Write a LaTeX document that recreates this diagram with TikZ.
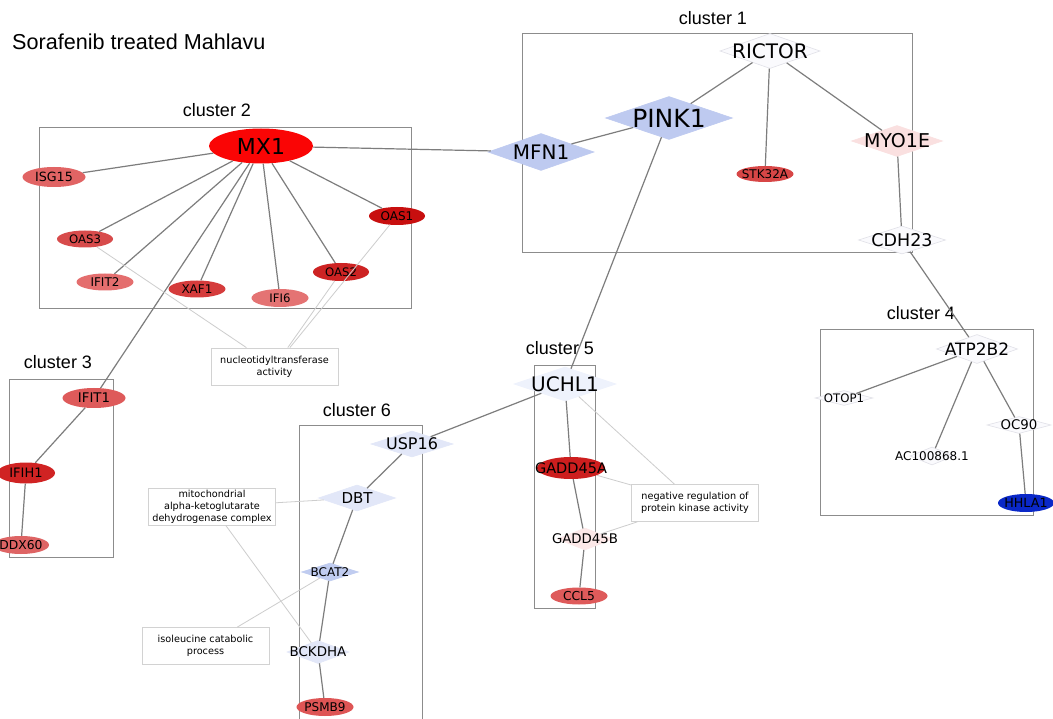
\documentclass[tikz,border=0pt]{standalone}
\usepackage{fontspec}
\setmainfont{DejaVu Sans}
\newfontfamily\titlefont{Liberation Sans}
\usetikzlibrary{shapes.geometric}
\newcommand\myfs[1]{\fontsize{#1}{#1}\selectfont}
\definecolor{boxgray}{RGB}{140,140,140}
\definecolor{edgegray}{RGB}{125,125,125}
\definecolor{lightedge}{RGB}{205,205,205}
\definecolor{aboxgray}{RGB}{210,210,210}
\definecolor{diaedge}{RGB}{225,225,232}
\definecolor{cMX}{RGB}{250,5,5}
\definecolor{cISG}{RGB}{225,100,100}
\definecolor{cOASiii}{RGB}{215,75,75}
\definecolor{cIFITii}{RGB}{228,110,110}
\definecolor{cXAF}{RGB}{213,60,60}
\definecolor{cIFI}{RGB}{228,115,115}
\definecolor{cOASii}{RGB}{205,35,35}
\definecolor{cOASi}{RGB}{200,15,15}
\definecolor{cSTK}{RGB}{215,70,70}
\definecolor{cIFITi}{RGB}{222,90,90}
\definecolor{cIFIH}{RGB}{208,35,35}
\definecolor{cDDX}{RGB}{222,100,100}
\definecolor{cGADDA}{RGB}{205,30,30}
\definecolor{cCCL}{RGB}{222,90,90}
\definecolor{cPSMB}{RGB}{222,85,85}
\definecolor{cHHLA}{RGB}{10,40,200}
\definecolor{cPINK}{RGB}{190,202,240}
\definecolor{cBCAT}{RGB}{192,204,240}
\definecolor{cUSP}{RGB}{226,231,248}
\definecolor{cUCHL}{RGB}{238,242,252}
\definecolor{cWhite}{RGB}{250,250,253}
\definecolor{cMYO}{RGB}{250,224,224}
\definecolor{cGADDB}{RGB}{252,232,232}
\tikzset{
  cbox/.style={draw=boxgray, line width=1pt},
  clabel/.style={font=\titlefont\myfs{18}},
  gene/.style={ellipse, inner sep=0pt, draw=none},
  dia/.style={diamond, inner sep=0pt, draw=diaedge, line width=0.6pt},
  lbl/.style={inner sep=0pt, text=black},
  edge/.style={draw=edgegray, line width=1.2pt},
  aedge/.style={draw=lightedge, line width=0.8pt},
  abox/.style={draw=aboxgray, line width=0.8pt, fill=white, align=center,
    minimum width=127pt, minimum height=37pt, inner sep=1pt,
    font=\fontsize{9.7}{12}\selectfont},
}
\begin{document}
\begin{tikzpicture}[x=1pt,y=-1pt]
\useasboundingbox (0,0) rectangle (1053,719);
\fill[white] (0,0) rectangle (1053,719);

% title
\node[anchor=west, font=\titlefont\myfs{21.6}, inner sep=0pt] (title) at (12,42) {Sorafenib treated Mahlavu};

% cluster boxes
\draw[cbox] (39,128) rectangle (411,309);
\node[clabel] (l2) at (217,110) {cluster 2};
\draw[cbox] (522,34) rectangle (912,253);
\node[clabel] (l1) at (713,18) {cluster 1};
\draw[cbox] (9,380) rectangle (113,557);
\node[clabel] (l3) at (58,362) {cluster 3};
\draw[cbox] (820,330) rectangle (1033,515);
\node[clabel] (l4) at (921,313) {cluster 4};
\draw[cbox] (534,366) rectangle (595,608);
\node[clabel] (l5) at (560,348) {cluster 5};
\draw[cbox] (299,725) -- (299,426) -- (422,426) -- (422,725);
\node[clabel] (l6) at (357,410) {cluster 6};

% cluster 2 nodes
\node[gene, fill=cMX, minimum width=104pt, minimum height=35pt] (mx1) at (261,146) {};
\node[lbl, font=\myfs{22}] at (mx1) {MX1};
\node[gene, fill=cISG, minimum width=63pt, minimum height=20pt] (isg15) at (54,177) {};
\node[lbl, font=\myfs{12.7}] at (isg15) {ISG15};
\node[gene, fill=cOASiii, minimum width=56pt, minimum height=17pt] (oas3) at (85,239) {};
\node[lbl, font=\myfs{11.7}] at (oas3) {OAS3};
\node[gene, fill=cIFITii, minimum width=57pt, minimum height=17pt] (ifit2) at (105,282) {};
\node[lbl, font=\myfs{12}] at (ifit2) {IFIT2};
\node[gene, fill=cXAF, minimum width=57pt, minimum height=17pt] (xaf1) at (197,289) {};
\node[lbl, font=\myfs{12}] at (xaf1) {XAF1};
\node[gene, fill=cIFI, minimum width=57pt, minimum height=18pt] (ifi6) at (280,298) {};
\node[lbl, font=\myfs{11.7}] at (ifi6) {IFI6};
\node[gene, fill=cOASii, minimum width=56pt, minimum height=18pt] (oas2) at (341,272) {};
\node[lbl, font=\myfs{11.7}] at (oas2) {OAS2};
\node[gene, fill=cOASi, minimum width=56pt, minimum height=18pt] (oas1) at (397,216) {};
\node[lbl, font=\myfs{12}] at (oas1) {OAS1};

% cluster 1 nodes
\node[dia, fill=cWhite, minimum width=100pt, minimum height=35pt] (rictor) at (770,51) {};
\node[lbl, font=\myfs{20}] at (rictor) {RICTOR};
\node[dia, fill=cPINK, draw=cPINK, minimum width=127pt, minimum height=43pt] (pink1) at (669,118) {};
\node[lbl, font=\myfs{25}] at (pink1) {PINK1};
\node[dia, fill=cPINK, draw=cPINK, minimum width=106pt, minimum height=37pt] (mfn1) at (541,152) {};
\node[lbl, font=\myfs{20}] at (mfn1) {MFN1};
\node[gene, fill=cSTK, minimum width=57pt, minimum height=16pt] (stk32a) at (765,174) {};
\node[lbl, font=\myfs{12}] at (stk32a) {STK32A};
\node[dia, fill=cMYO, draw=cMYO, minimum width=91pt, minimum height=31pt] (myo1e) at (897,141) {};
\node[lbl, font=\myfs{19}] at (myo1e) {MYO1E};
\node[dia, fill=cWhite, minimum width=87pt, minimum height=28pt] (cdh23) at (902,240) {};
\node[lbl, font=\myfs{17.5}] at (cdh23) {CDH23};

% cluster 4 nodes
\node[dia, fill=cWhite, minimum width=81pt, minimum height=29pt] (atp2b2) at (977,349) {};
\node[lbl, font=\myfs{17}] at (atp2b2) {ATP2B2};
\node[dia, fill=cWhite, minimum width=58pt, minimum height=15pt] (otop1) at (844,398) {};
\node[lbl, font=\myfs{11.7}] at (otop1) {OTOP1};
\node[dia, fill=cWhite, minimum width=44pt, minimum height=18pt] (ac100868) at (932,456) {};
\node[lbl, font=\myfs{12}] at (ac100868) {AC100868.1};
\node[dia, fill=cWhite, minimum width=64pt, minimum height=17pt] (oc90) at (1019,425) {};
\node[lbl, font=\myfs{13.3}] at (oc90) {OC90};
\node[gene, fill=cHHLA, minimum width=56pt, minimum height=18pt] (hhla1) at (1026,503) {};
\node[lbl, font=\myfs{12.7}] at (hhla1) {HHLA1};

% cluster 3 nodes
\node[gene, fill=cIFITi, minimum width=63pt, minimum height=20pt] (ifit1) at (94,398) {};
\node[lbl, font=\myfs{13.3}] at (ifit1) {IFIT1};
\node[gene, fill=cIFIH, minimum width=58pt, minimum height=21pt] (ifih1) at (26,473) {};
\node[lbl, font=\myfs{13}] at (ifih1) {IFIH1};
\node[gene, fill=cDDX, minimum width=56pt, minimum height=18pt] (ddx60) at (21,545) {};
\node[lbl, font=\myfs{12.3}] at (ddx60) {DDX60};

% cluster 5 nodes
\node[dia, fill=cUCHL, draw=cUCHL, minimum width=102pt, minimum height=34pt] (uchl1) at (565,384) {};
\node[lbl, font=\myfs{20}] at (uchl1) {UCHL1};
\node[gene, fill=cGADDA, minimum width=68pt, minimum height=22pt] (gadd45a) at (571,468) {};
\node[lbl, font=\myfs{14.5}] at (gadd45a) {GADD45A};
\node[dia, fill=cGADDB, draw=cGADDB, minimum width=56pt, minimum height=22pt] (gadd45b) at (585,539) {};
\node[lbl, font=\myfs{13.3}] at (gadd45b) {GADD45B};
\node[gene, fill=cCCL, minimum width=57pt, minimum height=17pt] (ccl5) at (579,596) {};
\node[lbl, font=\myfs{12.3}] at (ccl5) {CCL5};

% cluster 6 nodes
\node[dia, fill=cUSP, draw=cUSP, minimum width=82pt, minimum height=26pt] (usp16) at (412,444) {};
\node[lbl, font=\myfs{16}] at (usp16) {USP16};
\node[dia, fill=cUSP, draw=cUSP, minimum width=77pt, minimum height=26pt] (dbt) at (357,498) {};
\node[lbl, font=\myfs{15}] at (dbt) {DBT};
\node[dia, fill=cBCAT, draw=cBCAT, minimum width=57pt, minimum height=18pt] (bcat2) at (330,572) {};
\node[lbl, font=\myfs{12}] at (bcat2) {BCAT2};
\node[dia, fill=cUSP, draw=cUSP, minimum width=62pt, minimum height=23pt] (bckdha) at (318,652) {};
\node[lbl, font=\myfs{13.4}] at (bckdha) {BCKDHA};
\node[gene, fill=cPSMB, minimum width=57pt, minimum height=18pt] (psmb9) at (325,707) {};
\node[lbl, font=\myfs{12}] at (psmb9) {PSMB9};

% annotation boxes
\node[abox] (nucl) at (274.5,366.5) {nucleotidyltransferase\\activity};
\node[abox] (mito) at (212,506.5) {mitochondrial\\alpha-ketoglutarate\\dehydrogenase complex};
\node[abox] (isol) at (205.5,646) {isoleucine catabolic\\process};
\node[abox] (negr) at (695,503) {negative regulation of\\protein kinase activity};

% main edges
\draw[edge] (mx1) -- (isg15);
\draw[edge] (mx1) -- (oas3);
\draw[edge] (mx1) -- (ifit2);
\draw[edge] (mx1) -- (xaf1);
\draw[edge] (mx1) -- (ifi6);
\draw[edge] (mx1) -- (oas2);
\draw[edge] (mx1) -- (oas1);
\draw[edge] (mx1) -- (ifit1);
\draw[edge] (mx1) -- (mfn1);
\draw[edge] (mfn1) -- (pink1);
\draw[edge] (pink1) -- (rictor);
\draw[edge] (rictor) -- (stk32a);
\draw[edge] (rictor) -- (myo1e);
\draw[edge] (myo1e) -- (cdh23);
\draw[edge] (cdh23) -- (atp2b2);
\draw[edge] (atp2b2) -- (otop1);
\draw[edge] (atp2b2) -- (ac100868);
\draw[edge] (atp2b2) -- (oc90);
\draw[edge] (oc90) -- (hhla1);
\draw[edge] (pink1) -- (uchl1);
\draw[edge] (uchl1) -- (usp16);
\draw[edge] (uchl1) -- (gadd45a);
\draw[edge] (gadd45a) -- (gadd45b);
\draw[edge] (gadd45b) -- (ccl5);
\draw[edge] (usp16) -- (dbt);
\draw[edge] (dbt) -- (bcat2);
\draw[edge] (bcat2) -- (bckdha);
\draw[edge] (bckdha) -- (psmb9);
\draw[edge] (ifit1) -- (ifih1);
\draw[edge] (ifih1) -- (ddx60);

% annotation edges
\draw[aedge] (oas3) -- (nucl);
\draw[aedge] (oas1) -- (nucl);
\draw[aedge] (oas2) -- (nucl);
\draw[aedge] (mito) -- (dbt);
\draw[aedge] (mito) -- (bckdha);
\draw[aedge] (isol) -- (bcat2);
\draw[aedge] (uchl1) -- (negr);
\draw[aedge] (gadd45a) -- (negr);
\draw[aedge] (gadd45b) -- (negr);
\end{tikzpicture}
\end{document}
